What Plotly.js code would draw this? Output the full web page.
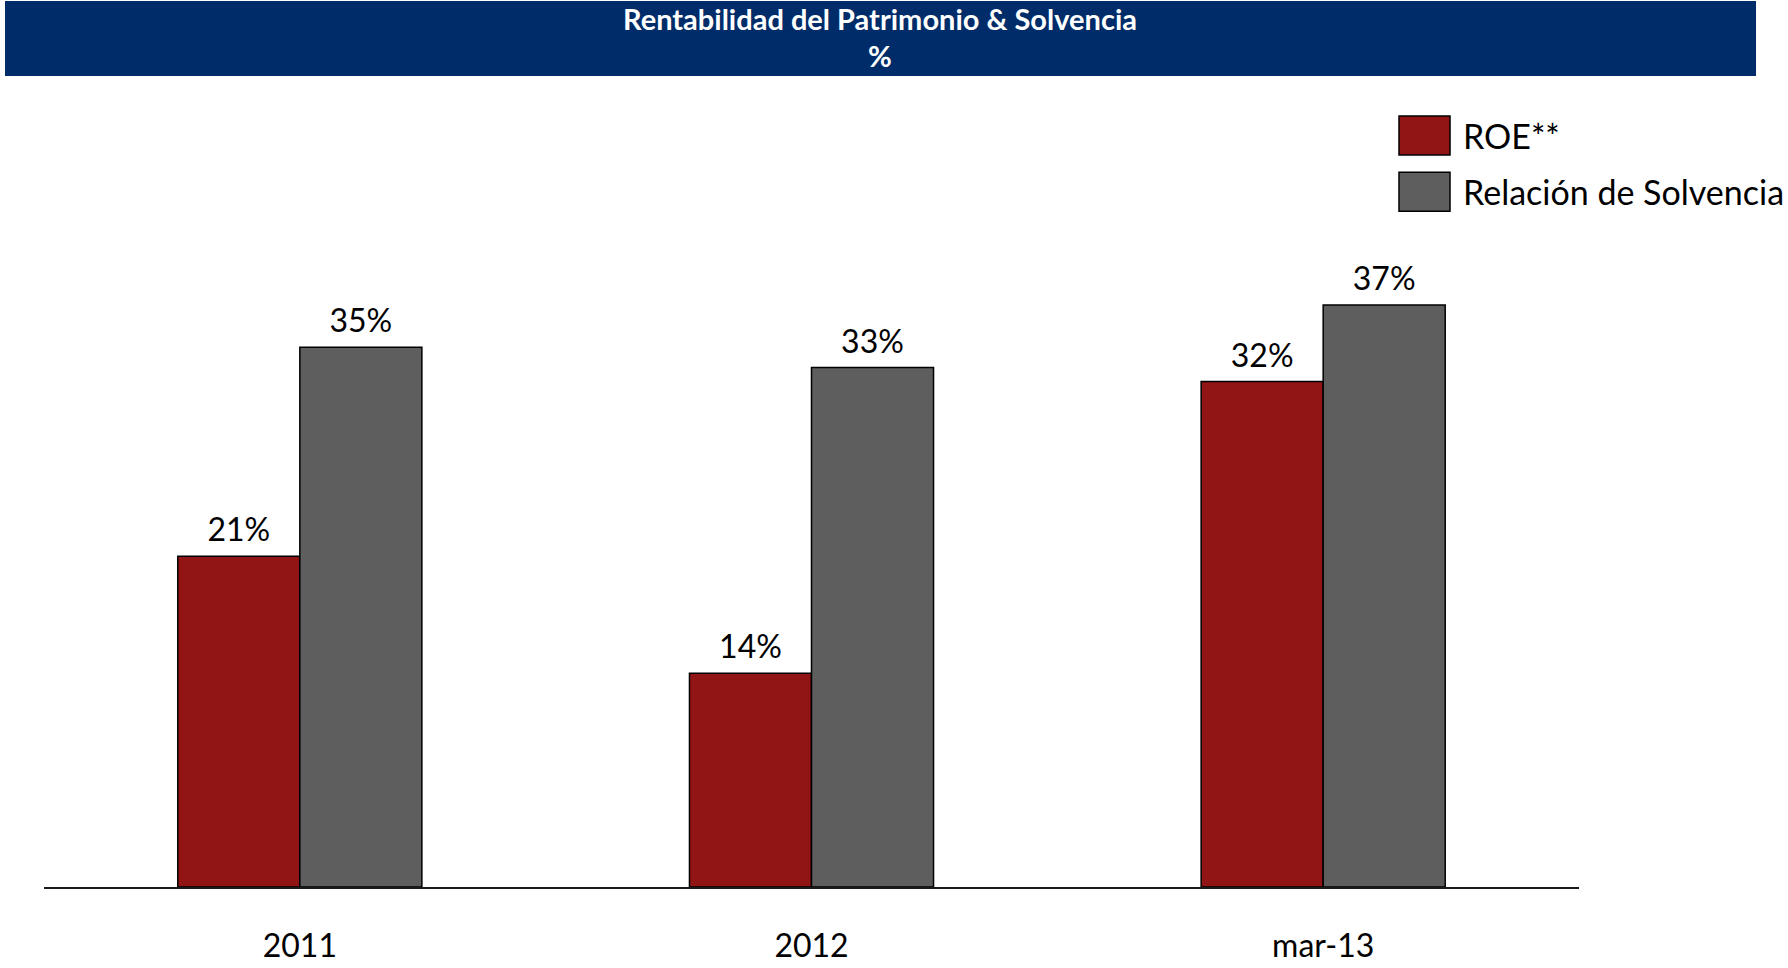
<!DOCTYPE html>
<html>
<head>
<meta charset="utf-8">
<script src="https://cdn.plot.ly/plotly-3.0.1.min.js"></script>
<style>
  html, body { margin: 0; padding: 0; background: #ffffff; }
  #chart { width: 1788px; height: 968px; }
</style>
</head>
<body>
<div id="chart"></div>
<script>
// ---- Data ----
const categories = ["2011", "2012", "mar-13"];
const roeValues = [21.2, 13.7, 32.4];
const solvenciaValues = [34.6, 33.3, 37.3];
const seriesNames = ["ROE**", "Relación de Solvencia"];
const chartTitle = "Rentabilidad del Patrimonio & Solvencia<br>%";

// ---- Layout geometry (pixels) ----
const W = 1788, H = 968;
const plotLeft = 44, plotRight = 1579, plotTop = 100, plotBottom = 887;
const plotW = plotRight - plotLeft, plotH = plotBottom - plotTop;
const pxPerUnit = 15.6;
const px2paperX = x => (x - plotLeft) / plotW;
const px2paperY = y => (plotBottom - y) / plotH;

const FONT = "Lato, 'Open Sans', sans-serif";

const traces = [
  {
    type: "bar", name: seriesNames[0], x: categories, y: roeValues,
    marker: { color: "#921515", line: { color: "#000000", width: 1.5 } },
    texttemplate: "%{y:.0f}%", textposition: "outside", cliponaxis: false,
    textfont: { family: FONT, size: 32, color: "#000000" },
    legendgroup: "a", hoverinfo: "none"
  },
  {
    type: "bar", name: seriesNames[1], x: categories, y: solvenciaValues,
    marker: { color: "#5e5e5e", line: { color: "#000000", width: 1.5 } },
    texttemplate: "%{y:.0f}%", textposition: "outside", cliponaxis: false,
    textfont: { family: FONT, size: 32, color: "#000000" },
    legendgroup: "b", hoverinfo: "none"
  }
];

const layout = {
  width: W, height: H,
  paper_bgcolor: "#ffffff", plot_bgcolor: "#ffffff",
  margin: { l: plotLeft, r: W - plotRight, t: plotTop, b: H - plotBottom, pad: 0, autoexpand: false },
  barmode: "group", bargap: 0.523, bargroupgap: 0,
  font: { family: FONT, color: "#000000" },
  title: {
    text: chartTitle,
    font: { family: FONT, size: 29, color: "#ffffff", weight: "bold" },
    xref: "container", x: 880 / W, xanchor: "center",
    yref: "container", y: 1 - 29.5 / H, yanchor: "middle"
  },
  xaxis: {
    type: "category", range: [-0.5, 2.5],
    showline: true, linecolor: "#1a1a1a", linewidth: 2,
    showgrid: false, zeroline: false, ticks: "",
    ticklabelstandoff: 30,
    tickfont: { family: FONT, size: 32, color: "#000000" },
    fixedrange: true
  },
  yaxis: {
    visible: false, range: [0, plotH / pxPerUnit],
    showgrid: false, zeroline: false, fixedrange: true
  },
  showlegend: true,
  legend: {
    x: px2paperX(1386), xanchor: "left",
    y: px2paperY(107), yanchor: "top",
    font: { family: FONT, size: 34, color: "#000000" },
    itemwidth: 67, traceorder: "grouped", tracegroupgap: 9,
    bgcolor: "rgba(0,0,0,0)", borderwidth: 0
  },
  shapes: [
    {
      type: "rect", xref: "paper", yref: "paper", layer: "below",
      x0: px2paperX(5), x1: px2paperX(1756),
      y0: px2paperY(76), y1: px2paperY(1),
      fillcolor: "#002C69", line: { width: 0 }
    }
  ]
};

Plotly.newPlot("chart", traces, layout, { staticPlot: true, displayModeBar: false }).then(gd => {
  // Enlarge legend swatches to match the reference's large boxes
  gd.querySelectorAll(".legend .legendpoints path").forEach(p => {
    p.setAttribute("d", "M25.5,19.5H-25.5V-19.5H25.5Z");
    p.style.strokeWidth = "1.5px";
    p.style.stroke = "#000000";
  });
  // Lift the value labels slightly, as in the reference
  gd.querySelectorAll(".bartext").forEach(t => {
    const tr = t.getAttribute("transform") || "";
    t.setAttribute("transform", "translate(0,-5) " + tr);
  });
});
</script>
</body>
</html>
